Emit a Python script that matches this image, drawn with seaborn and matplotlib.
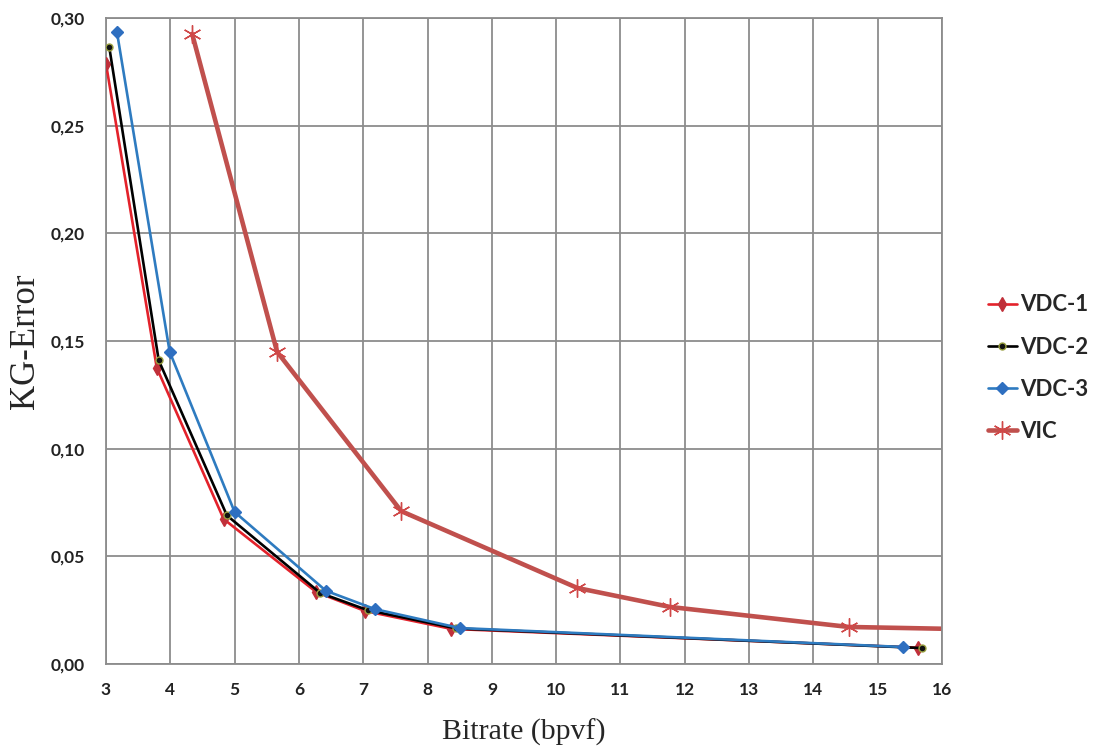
import matplotlib
matplotlib.use("Agg")
import pandas as pd
import matplotlib.pyplot as plt
import seaborn as sns
from matplotlib.ticker import FuncFormatter, MultipleLocator

sns.set_style("whitegrid")

# ---------------------------------------------------------
# Data
# ---------------------------------------------------------
vdc1_x = [3.00, 3.79, 4.83, 6.27, 7.03, 8.37, 15.62]
vdc1_y = [0.2787, 0.1375, 0.0673, 0.0334, 0.0246, 0.0163, 0.0076]

vdc2_x = [3.05, 3.82, 4.88, 6.33, 7.07, 8.45, 15.69]
vdc2_y = [0.2866, 0.1410, 0.0690, 0.0330, 0.0250, 0.0165, 0.0074]

vdc3_x = [3.17, 3.99, 5.00, 6.42, 7.18, 8.50, 15.40]
vdc3_y = [0.2935, 0.1450, 0.0706, 0.0340, 0.0255, 0.0167, 0.0079]

vic_x = [4.34, 5.66, 7.59, 10.33, 11.77, 14.55, 17.20]
vic_y = [0.2926, 0.1450, 0.0710, 0.0353, 0.0265, 0.0172, 0.0157]

series = ["VDC-1", "VDC-2", "VDC-3", "VIC"]

frames = []
for name, xs, ys in zip(series,
                        [vdc1_x, vdc2_x, vdc3_x, vic_x],
                        [vdc1_y, vdc2_y, vdc3_y, vic_y]):
    frames.append(pd.DataFrame({"bitrate": xs, "error": ys, "method": name}))
df = pd.concat(frames, ignore_index=True)

styles = {
    "VDC-1": dict(color="#E3222B", lw=1.9, marker="d", ms=7, mfc="#C0303A", mec="#C0303A", mew=1.0),
    "VDC-2": dict(color="#000000", lw=1.9, marker="o", ms=5, mfc="#111111", mec="#9AA040", mew=1.0),
    "VDC-3": dict(color="#2E7BC0", lw=1.9, marker="D", ms=6, mfc="#2E6FC0", mec="#2E6FC0", mew=1.0),
    "VIC":   dict(color="#C0504D", lw=3.3, marker=(6, 2, 0), ms=13, mfc="#D04848", mec="#D04848", mew=1.0),
}

# ---------------------------------------------------------
# Plot
# ---------------------------------------------------------
fig = plt.figure(figsize=(10.93, 7.49), dpi=100)
ax = fig.add_axes([106 / 1093, 1 - 664 / 749, (942 - 106) / 1093, (664 - 18) / 749])

for name in series:
    st = styles[name]
    sub = df[df["method"] == name]
    sns.lineplot(data=sub, x="bitrate", y="error", sort=False, ax=ax,
                 color=st["color"], linewidth=st["lw"], marker=st["marker"],
                 markersize=st["ms"], markerfacecolor=st["mfc"],
                 markeredgecolor=st["mec"], markeredgewidth=st["mew"],
                 label=name, zorder=3 if name != "VIC" else 2)

ax.set_xlim(3, 16)
ax.set_ylim(0, 0.30)
ax.xaxis.set_major_locator(MultipleLocator(1))
ax.yaxis.set_major_locator(MultipleLocator(0.05))
ax.yaxis.set_major_formatter(FuncFormatter(lambda v, p: f"{v:.2f}".replace(".", ",")))

ax.grid(True, color="#8C8C8C", linewidth=1.3)
for sp in ax.spines.values():
    sp.set_color("#8C8C8C")
    sp.set_linewidth(1.3)
ax.tick_params(axis="both", which="major", length=5, width=1.3, color="#8C8C8C",
               labelsize=12.5)
ax.tick_params(axis="y", pad=10)
ax.tick_params(axis="x", pad=8)
for lab in ax.get_xticklabels() + ax.get_yticklabels():
    lab.set_family(["Lato", "DejaVu Sans"])
    lab.set_fontweight("bold")
    lab.set_color("#222222")

ax.set_xlabel("Bitrate (bpvf)", family=["Liberation Serif", "DejaVu Serif"],
              fontsize=21.5, labelpad=15)
ax.set_ylabel("KG-Error", family=["Liberation Serif", "DejaVu Serif"],
              fontsize=25, labelpad=6)

leg = ax.legend(loc="center left", bbox_to_anchor=(1.055, 0.458), frameon=False,
                borderaxespad=0, borderpad=0,
                handlelength=1.3, handletextpad=0.15, labelspacing=0.95,
                prop={"family": ["Lato", "DejaVu Sans"], "weight": "bold", "size": 16})

fig.savefig("out.png", dpi=100)
